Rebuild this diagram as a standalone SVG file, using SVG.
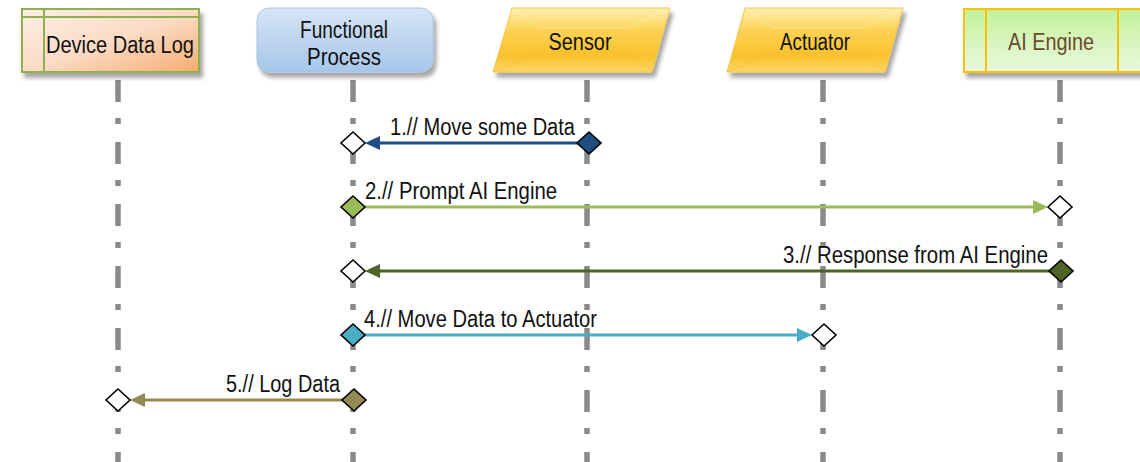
<svg xmlns="http://www.w3.org/2000/svg" width="1140" height="462" viewBox="0 0 1140 462">
<defs>
<style>
.t{font-family:"Liberation Sans",Arial,sans-serif;font-size:23px;fill:#111}
.lbl{font-family:"Liberation Sans",Arial,sans-serif;font-size:23px;fill:#111}
.life{stroke:#8a8a8a;stroke-width:5.5;stroke-dasharray:22 16 6 18;fill:none}
.open{fill:#fff;stroke:#000;stroke-width:1.6}
.msg{stroke-width:3;fill:none}
</style>
<filter id="sh" x="-10%" y="-20%" width="130%" height="160%">
<feDropShadow dx="3" dy="5" stdDeviation="2" flood-color="#000" flood-opacity="0.35"/>
</filter>
<linearGradient id="gLog" x1="0" y1="0" x2="1" y2="1">
<stop offset="0" stop-color="#fdeee4"/>
<stop offset="0.5" stop-color="#fbdcc6"/>
<stop offset="1" stop-color="#f6ac70"/>
</linearGradient>
<linearGradient id="gFun" x1="0" y1="0" x2="0" y2="1">
<stop offset="0" stop-color="#d6e5f5"/>
<stop offset="1" stop-color="#a6c6ea"/>
</linearGradient>
<linearGradient id="gGold" x1="0" y1="0" x2="0" y2="1">
<stop offset="0" stop-color="#fff0b0"/>
<stop offset="0.35" stop-color="#fcd254"/>
<stop offset="0.75" stop-color="#f9c22c"/>
<stop offset="1" stop-color="#fcd86a"/>
</linearGradient>
<linearGradient id="gAI" x1="0" y1="0" x2="0" y2="1">
<stop offset="0" stop-color="#c2f199"/>
<stop offset="1" stop-color="#eaf9df"/>
</linearGradient>
</defs>

<g id="lifelines">
<line class="life" x1="118" y1="80" x2="118" y2="462"/>
<line class="life" x1="353" y1="80" x2="353" y2="462"/>
<line class="life" x1="587" y1="80" x2="587" y2="462"/>
<line class="life" x1="823" y1="80" x2="823" y2="462"/>
<line class="life" x1="1060" y1="80" x2="1060" y2="462"/>
</g>

<g id="node-device-data-log">
<rect x="22" y="9" width="177" height="63" fill="url(#gLog)" stroke="#8db150" stroke-width="2" filter="url(#sh)"/>
<line x1="22" y1="17" x2="199" y2="17" stroke="#8db150" stroke-width="2"/>
<line x1="44" y1="9" x2="44" y2="72" stroke="#8db150" stroke-width="2"/>
<text class="t" x="46" y="53" textLength="148" lengthAdjust="spacingAndGlyphs">Device Data  Log</text>
</g>

<g id="node-functional-process">
<rect x="257" y="8" width="176" height="64" rx="12" fill="url(#gFun)" stroke="#a9c5e6" stroke-width="1" filter="url(#sh)"/>
<text class="t" x="344" y="38" text-anchor="middle" textLength="88" lengthAdjust="spacingAndGlyphs">Functional</text>
<text class="t" x="344" y="65" text-anchor="middle" textLength="74" lengthAdjust="spacingAndGlyphs">Process</text>
</g>

<g id="node-sensor">
<polygon points="512,8 670,8 652,72 493,72" fill="url(#gGold)" stroke="#f3c54a" stroke-width="1" filter="url(#sh)"/>
<polyline points="512,8 540,28 628,28 670,8" fill="none" stroke="#fff3c4" stroke-opacity="0.5" stroke-width="1"/>
<polyline points="493,72 540,52 628,52 652,72" fill="none" stroke="#f0b020" stroke-opacity="0.3" stroke-width="1"/>
<text class="t" x="580" y="50" text-anchor="middle" textLength="63" lengthAdjust="spacingAndGlyphs">Sensor</text>
</g>

<g id="node-actuator">
<polygon points="745,8 903,8 885,72 727,72" fill="url(#gGold)" stroke="#f3c54a" stroke-width="1" filter="url(#sh)"/>
<polyline points="745,8 773,28 861,28 903,8" fill="none" stroke="#fff3c4" stroke-opacity="0.5" stroke-width="1"/>
<polyline points="727,72 773,52 861,52 885,72" fill="none" stroke="#f0b020" stroke-opacity="0.3" stroke-width="1"/>
<text class="t" x="815" y="50" text-anchor="middle" textLength="70" lengthAdjust="spacingAndGlyphs">Actuator</text>
</g>

<g id="node-ai-engine">
<rect x="964" y="9" width="182" height="63" fill="url(#gAI)" stroke="#ffc000" stroke-width="2" filter="url(#sh)"/>
<line x1="986" y1="9" x2="986" y2="72" stroke="#ffc000" stroke-width="2"/>
<line x1="1118" y1="9" x2="1118" y2="72" stroke="#ffc000" stroke-width="2"/>
<text class="t" x="1051" y="50" text-anchor="middle" textLength="86" lengthAdjust="spacingAndGlyphs" style="fill:#6b4a2e">AI Engine</text>
</g>

<g id="connectors">
<!-- 1 -->
<line class="msg" x1="589" y1="143" x2="375" y2="143" stroke="#1f4e83"/>
<polygon points="365,143 380,136 380,150" fill="#1f4e83"/>
<polygon class="open" points="353,132 365,143 353,154 341,143"/>
<polygon points="589,132 601,143 589,154 577,143" fill="#1f4e83" stroke="#000" stroke-width="1.6"/>
<text class="lbl" x="390" y="135" textLength="185" lengthAdjust="spacingAndGlyphs">1.// Move some  Data</text>
<!-- 2 -->
<line class="msg" x1="353" y1="207" x2="1038" y2="207" stroke="#9bbb59"/>
<polygon points="1048,207 1033,200 1033,214" fill="#9bbb59"/>
<polygon points="353,196 365,207 353,218 341,207" fill="#9bbb59" stroke="#000" stroke-width="1.6"/>
<polygon class="open" points="1060,196 1072,207 1060,218 1048,207"/>
<text class="lbl" x="365" y="199" textLength="192" lengthAdjust="spacingAndGlyphs">2.// Prompt  AI Engine</text>
<!-- 3 -->
<line class="msg" x1="1060" y1="271" x2="375" y2="271" stroke="#4f6228"/>
<polygon points="365,271 380,264 380,278" fill="#4f6228"/>
<polygon class="open" points="353,260 365,271 353,282 341,271"/>
<polygon points="1061,260 1073,271 1061,282 1049,271" fill="#4f6228" stroke="#000" stroke-width="1.6"/>
<text class="lbl" x="783" y="263" textLength="265" lengthAdjust="spacingAndGlyphs">3.// Response  from AI Engine</text>
<!-- 4 -->
<line class="msg" x1="353" y1="335" x2="802" y2="335" stroke="#4bacc6"/>
<polygon points="812,335 797,328 797,342" fill="#4bacc6"/>
<polygon points="353,324 365,335 353,346 341,335" fill="#4bacc6" stroke="#000" stroke-width="1.6"/>
<polygon class="open" points="824,324 836,335 824,346 812,335"/>
<text class="lbl" x="364" y="327" textLength="233" lengthAdjust="spacingAndGlyphs">4.// Move Data to Actuator</text>
<!-- 5 -->
<line class="msg" x1="354" y1="400" x2="140" y2="400" stroke="#938953"/>
<polygon points="130,400 145,393 145,407" fill="#938953"/>
<polygon class="open" points="118,389 130,400 118,411 106,400"/>
<polygon points="354,389 366,400 354,411 342,400" fill="#938953" stroke="#000" stroke-width="1.6"/>
<text class="lbl" x="226" y="392" textLength="114" lengthAdjust="spacingAndGlyphs">5.// Log Data</text>
</g>
</svg>
